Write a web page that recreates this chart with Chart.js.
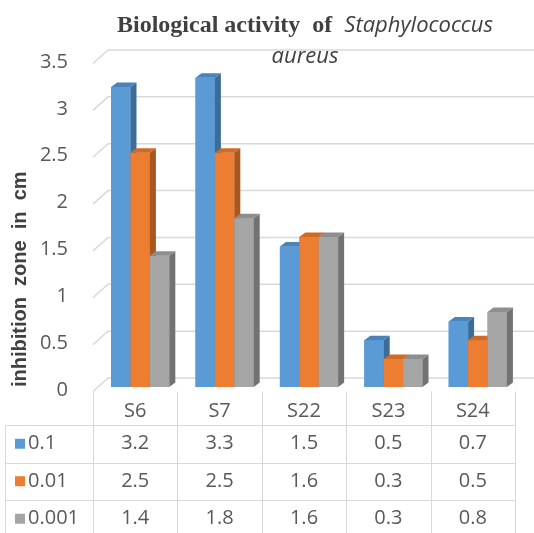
<!DOCTYPE html>
<html>
<head>
<meta charset="utf-8">
<script src="https://cdn.jsdelivr.net/npm/chart.js@4"></script>
<style>
  html, body { margin: 0; padding: 0; background: #fff; }
  canvas { display: block; }
</style>
</head>
<body>
<canvas id="chart" width="534" height="533"></canvas>
<script>
// Inhibition zone (cm) per compound at three concentrations
const categories = ['S6', 'S7', 'S22', 'S23', 'S24'];
const seriesNames = ['0.1', '0.01', '0.001'];
const conc0_1   = [3.2, 3.3, 1.5, 0.5, 0.7];
const conc0_01  = [2.5, 2.5, 1.6, 0.3, 0.5];
const conc0_001 = [1.4, 1.8, 1.6, 0.3, 0.8];
const yTicks = [0, 0.5, 1, 1.5, 2, 2.5, 3, 3.5];

const seriesValues = [conc0_1, conc0_01, conc0_001];
const palette = [
  { front: '#5b9bd5', side: '#3d6c99', top: '#4a82ba' },
  { front: '#ed7d31', side: '#a9561f', top: '#d06a25' },
  { front: '#a5a5a5', side: '#727272', top: '#8e8e8e' }
];

// 3D offsets: floor front edge, back wall, and bar depth
const FLOOR_FRONT = { dx: -5, dy: 4.5 };
const BACK_WALL   = { dx: 10, dy: -9 };
const BAR_DEPTH   = { dx: 6,  dy: -4.5 };

const NUM_FONT = '20px "Open Sans"';
const TEXT_COLOR = '#595959';
const LINE_COLOR = '#d9d9d9';

const threeD = {
  id: 'threeD',
  beforeDatasetsDraw(chart) {
    const { ctx, chartArea, scales: { y } } = chart;
    ctx.save();
    ctx.strokeStyle = LINE_COLOR;
    ctx.lineWidth = 1.5;
    yTicks.forEach(v => {
      const py = y.getPixelForValue(v);
      ctx.beginPath();
      ctx.moveTo(chartArea.left + FLOOR_FRONT.dx, py + FLOOR_FRONT.dy);
      ctx.lineTo(chartArea.left + BACK_WALL.dx, py + BACK_WALL.dy);
      ctx.lineTo(chart.width, py + BACK_WALL.dy);
      ctx.stroke();
    });
    ctx.restore();
  },
  afterDatasetsDraw(chart) {
    // Paint series left to right so each bar's front hides its neighbour's side face
    const ctx = chart.ctx;
    const { dx, dy } = BAR_DEPTH;
    ctx.save();
    chart.data.datasets.forEach((ds, i) => {
      chart.getDatasetMeta(i).data.forEach(bar => {
        bar.draw(ctx);
        const { x, y, base, width } = bar.getProps(['x', 'y', 'base', 'width'], true);
        const l = x - width / 2, r = x + width / 2;
        ctx.fillStyle = ds.sideColor;
        ctx.beginPath();
        ctx.moveTo(r, y); ctx.lineTo(r + dx, y + dy);
        ctx.lineTo(r + dx, base + dy); ctx.lineTo(r, base);
        ctx.closePath(); ctx.fill();
        ctx.fillStyle = ds.topColor;
        ctx.beginPath();
        ctx.moveTo(l, y); ctx.lineTo(l + dx, y + dy);
        ctx.lineTo(r + dx, y + dy); ctx.lineTo(r, y);
        ctx.closePath(); ctx.fill();
      });
    });
    ctx.restore();
  },
  afterDraw(chart) {
    const { ctx, scales: { x, y } } = chart;
    ctx.save();

    // Title: bold serif run followed by italic species name
    const cx = 305;
    const run1 = 'Biological activity  of  ';
    const run2 = 'Staphylococcus';
    const f1 = 'bold 24px "Liberation Serif"';
    const f2 = 'italic 22px "Open Sans"';
    ctx.fillStyle = '#404040';
    ctx.textBaseline = 'alphabetic';
    ctx.font = f1; const w1 = ctx.measureText(run1).width;
    ctx.font = f2; const w2 = ctx.measureText(run2).width;
    const tx = cx - (w1 + w2) / 2;
    ctx.textAlign = 'left';
    ctx.font = f1; ctx.fillText(run1, tx, 31.5);
    ctx.font = f2; ctx.fillText(run2, tx + w1, 31.5);
    ctx.textAlign = 'center';
    ctx.fillText('aureus', cx, 63);

    // Data table under the floor
    const half = (x.getPixelForValue(1) - x.getPixelForValue(0)) / 2;
    const colEdge = i => x.getPixelForValue(i) - half + FLOOR_FRONT.dx;
    const tableTop = y.getPixelForValue(0) + FLOOR_FRONT.dy;
    const headBottom = 425;
    const rowH = 37.5;
    const tableLeft = 5;
    const tableRight = colEdge(categories.length);
    const tableBottom = headBottom + rowH * seriesNames.length;

    ctx.strokeStyle = LINE_COLOR;
    ctx.lineWidth = 1;
    ctx.beginPath();
    for (let i = 0; i <= categories.length; i++) {
      const ex = Math.round(colEdge(i)) + 0.5;
      ctx.moveTo(ex, tableTop); ctx.lineTo(ex, tableBottom);
    }
    ctx.moveTo(tableLeft + 0.5, headBottom); ctx.lineTo(tableLeft + 0.5, tableBottom);
    for (let r = 0; r <= seriesNames.length; r++) {
      const ry = Math.round(headBottom + r * rowH) + 0.5;
      ctx.moveTo(tableLeft, ry); ctx.lineTo(tableRight, ry);
    }
    ctx.stroke();

    ctx.fillStyle = TEXT_COLOR;
    ctx.font = NUM_FONT;
    ctx.textBaseline = 'middle';
    ctx.textAlign = 'center';
    categories.forEach((c, i) => {
      ctx.fillText(c, (colEdge(i) + colEdge(i + 1)) / 2, 411);
    });
    seriesNames.forEach((name, r) => {
      const ry = headBottom + r * rowH + rowH / 2;
      ctx.fillStyle = palette[r].front;
      ctx.fillRect(15, ry - 5, 10, 10);
      ctx.fillStyle = TEXT_COLOR;
      ctx.textAlign = 'left';
      ctx.fillText(name, 28, ry);
      ctx.textAlign = 'center';
      seriesValues[r].forEach((v, i) => {
        ctx.fillText(String(v), (colEdge(i) + colEdge(i + 1)) / 2, ry);
      });
    });
    ctx.restore();
  }
};

new Chart(document.getElementById('chart'), {
  type: 'bar',
  data: {
    labels: categories,
    datasets: seriesNames.map((name, i) => ({
      label: name,
      data: seriesValues[i],
      backgroundColor: palette[i].front,
      sideColor: palette[i].side,
      topColor: palette[i].top,
      borderWidth: 0,
      barPercentage: 1,
      categoryPercentage: 0.69
    }))
  },
  options: {
    responsive: false,
    animation: false,
    events: [],
    layout: { padding: { left: 0, right: 14, top: 59, bottom: 146 } },
    plugins: {
      legend: { display: false },
      title: { display: false },
      tooltip: { enabled: false }
    },
    scales: {
      x: { display: false },
      y: {
        min: 0,
        max: 3.5,
        afterFit(scale) { scale.width = 98; },
        afterBuildTicks(scale) { scale.ticks = yTicks.map(v => ({ value: v })); },
        grid: { display: false, drawTicks: false, tickLength: 0 },
        border: { display: false },
        ticks: {
          padding: 30,
          labelOffset: 3,
          color: TEXT_COLOR,
          font: { family: 'Open Sans', size: 20 },
          callback: v => String(v)
        },
        title: {
          display: true,
          text: 'inhibition  zone  in  cm',
          align: 'start',
          color: '#404040',
          font: { family: 'Liberation Sans', size: 20, weight: 'bold' },
          padding: { top: 8, bottom: 0 }
        }
      }
    }
  },
  plugins: [threeD]
});
</script>
</body>
</html>
